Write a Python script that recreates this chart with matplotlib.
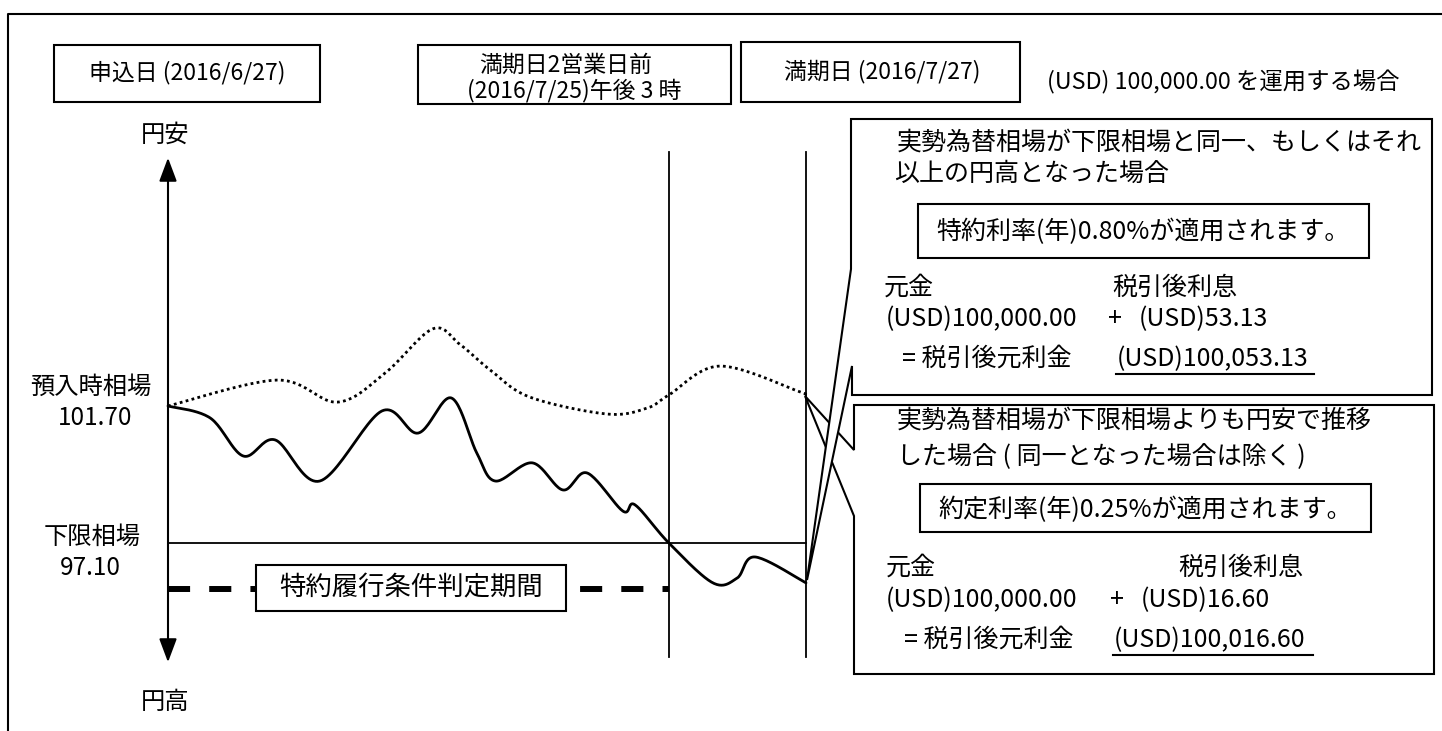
import numpy as np
import matplotlib.pyplot as plt
from matplotlib.patches import Polygon, Rectangle, FancyArrowPatch

plt.rcParams['font.family'] = ['Noto Sans CJK JP', 'DejaVu Sans']

# 為替相場の推移イメージ（横軸：申込日=0 ～ 満期日=100 の位置、縦軸：USD/JPY）
pos_solid = [0, 6.6, 11.8, 16.8, 23.8, 33.5, 39.2, 44.4, 48.4, 51.3, 57.1, 61.9,
             65.7, 71.3, 73.2, 78.5, 85.4, 89.2, 92.0, 100]
rate_solid = [101.70, 101.30, 100.02, 100.56, 99.18, 101.53, 100.79, 101.97, 100.12,
              99.18, 99.79, 98.88, 99.45, 98.17, 98.38, 97.10, 95.76, 95.92, 96.63, 95.76]
pos_dotted = [0, 17.1, 26.5, 33.9, 41.5, 45.8, 50.5, 56.7, 68.8, 75.1, 78.5, 86.5, 99.1, 100]
rate_dotted = [101.70, 102.57, 101.83, 102.78, 104.29, 103.76, 102.91, 102.00, 101.43,
               101.63, 102.07, 103.04, 102.17, 102.07]

entry_rate = 101.70     # 預入時相場
limit_rate = 97.10      # 下限相場
judge_end = 78.5        # 満期日2営業日前
maturity = 100          # 満期日
band_rate = 95.55       # 判定期間の破線の高さ


def smooth(x, y, n=24):
    # Catmull-Rom で描画用に滑らかにする
    p = np.column_stack([x, y]).astype(float)
    p = np.vstack([p[0], p, p[-1]])
    t = np.linspace(0, 1, n, endpoint=False)[:, None]
    out = []
    for i in range(1, len(p) - 2):
        p0, p1, p2, p3 = p[i - 1], p[i], p[i + 1], p[i + 2]
        seg = 0.5 * ((2 * p1) + (-p0 + p2) * t + (2 * p0 - 5 * p1 + 4 * p2 - p3) * t ** 2
                     + (-p0 + 3 * p1 - 3 * p2 + p3) * t ** 3)
        out.append(seg)
    out.append(p[-2][None, :])
    out = np.vstack(out)
    return out[:, 0], out[:, 1]


W, H = 1442, 731
fig = plt.figure(figsize=(W / 100, H / 100), dpi=100)
fig.patch.set_facecolor('white')

# グラフ部分
ax2 = fig.add_axes([168 / W, 1 - 657 / H, (806 - 168) / W, (657 - 152) / H])
ax2.set_xlim(0, 100)
ax2.set_ylim(93.27, 110.23)
ax2.axis('off')

sx, sy = smooth(pos_solid, rate_solid)
ax2.plot(sx, sy, color='black', lw=2.0, clip_on=False, solid_capstyle='round')
dx, dy = smooth(pos_dotted, rate_dotted)
ax2.plot(dx, dy, color='black', lw=2.0, ls=(0, (1, 1.2)), clip_on=False)
ax2.plot([0, maturity], [limit_rate, limit_rate], color='black', lw=1.3, clip_on=False)
ax2.plot([judge_end, judge_end], [93.27, 110.23], color='black', lw=1.3, clip_on=False)
ax2.plot([maturity, maturity], [93.27, 110.23], color='black', lw=1.3, clip_on=False)
ax2.plot([0, judge_end], [band_rate, band_rate], color='black', lw=4.3,
         dashes=(3.7, 3.2), clip_on=False)

# レイアウト用（ピクセル座標）
ax = fig.add_axes([0, 0, 1, 1])
ax.set_xlim(0, W)
ax.set_ylim(H, 0)
ax.axis('off')
ax.patch.set_alpha(0)

# 外枠
ax.plot([8, 8, W], [H, 14, 14], color='black', lw=1.5)

fs_top = 16.5
def box(x0, y0, x1, y1, lw=1.5):
    ax.add_patch(Rectangle((x0, y0), x1 - x0, y1 - y0, fc='white', ec='black', lw=lw, zorder=3))

box(54, 45, 320, 102)
ax.text(187, 73, '申込日 (2016/6/27)', ha='center', va='center', fontsize=fs_top, zorder=4)
box(418, 45, 731, 104)
ax.text(566, 65, '満期日2営業日前', ha='center', va='center', fontsize=fs_top, zorder=4)
ax.text(574, 90, '(2016/7/25)午後 3 時', ha='center', va='center', fontsize=fs_top, zorder=4)
box(741, 42, 1020, 102)
ax.text(882, 72, '満期日 (2016/7/27)', ha='center', va='center', fontsize=fs_top, zorder=4)
ax.text(1047, 82, '(USD) 100,000.00 を運用する場合', ha='left', va='center', fontsize=16.8)

# 縦軸
ax.add_patch(FancyArrowPatch((168, 665), (168, 155),
                             arrowstyle='<|-|>,head_length=0.8,head_width=0.3',
                             mutation_scale=18, lw=1.5, color='black'))
fs_lab = 17.5
ax.text(165, 135, '円安', ha='center', va='center', fontsize=fs_lab)
ax.text(165, 702, '円高', ha='center', va='center', fontsize=fs_lab)
ax.text(91, 387, '預入時相場', ha='center', va='center', fontsize=fs_lab)
ax.text(95, 418, '101.70', ha='center', va='center', fontsize=fs_lab)
ax.text(92, 537, '下限相場', ha='center', va='center', fontsize=fs_lab)
ax.text(90, 568, '97.10', ha='center', va='center', fontsize=fs_lab)

box(256, 565, 566, 611)
ax.text(411, 588, '特約履行条件判定期間', ha='center', va='center', fontsize=19, zorder=4)

# 吹き出し（円安で推移した場合）
ax.add_patch(Polygon([(854, 405), (1434, 405), (1434, 674), (854, 674), (854, 516),
                      (805, 396), (854, 450)], closed=True, fc='white', ec='black',
                     lw=1.5, zorder=3))
# 吹き出し（下限相場以下となった場合）
ax.add_patch(Polygon([(851, 119), (1432, 119), (1432, 395), (852, 395), (852, 366),
                      (807, 580), (851, 269)], closed=True, fc='white', ec='black',
                     lw=1.5, zorder=3))

fs = 18
z = 5
ax.text(897, 143, '実勢為替相場が下限相場と同一、もしくはそれ', ha='left', va='center', fontsize=fs, zorder=z)
ax.text(894, 174, '以上の円高となった場合', ha='left', va='center', fontsize=fs, zorder=z)
ax.add_patch(Rectangle((918, 204), 451, 54, fc='white', ec='black', lw=1.5, zorder=4))
ax.text(1143, 232, '特約利率(年)0.80%が適用されます。', ha='center', va='center', fontsize=fs, zorder=z)
ax.text(884, 288, '元金', ha='left', va='center', fontsize=fs, zorder=z)
ax.text(1112, 288, '税引後利息', ha='left', va='center', fontsize=fs, zorder=z)
ax.text(886, 319, '(USD)100,000.00', ha='left', va='center', fontsize=fs, zorder=z)
ax.text(1108, 319, '+', ha='left', va='center', fontsize=fs, zorder=z)
ax.text(1139, 319, '(USD)53.13', ha='left', va='center', fontsize=fs, zorder=z)
ax.text(902, 359, '= 税引後元利金', ha='left', va='center', fontsize=fs, zorder=z)
ax.text(1117, 359, '(USD)100,053.13', ha='left', va='center', fontsize=fs, zorder=z)
ax.plot([1116, 1314], [374, 374], color='black', lw=1.5, zorder=z)

ax.text(897, 421, '実勢為替相場が下限相場よりも円安で推移', ha='left', va='center', fontsize=fs, zorder=z)
ax.text(897, 457, 'した場合 ( 同一となった場合は除く )', ha='left', va='center', fontsize=fs, zorder=z)
ax.add_patch(Rectangle((920, 484), 451, 48, fc='white', ec='black', lw=1.5, zorder=4))
ax.text(1145, 510, '約定利率(年)0.25%が適用されます。', ha='center', va='center', fontsize=fs, zorder=z)
ax.text(886, 568, '元金', ha='left', va='center', fontsize=fs, zorder=z)
ax.text(1178, 568, '税引後利息', ha='left', va='center', fontsize=fs, zorder=z)
ax.text(886, 600, '(USD)100,000.00', ha='left', va='center', fontsize=fs, zorder=z)
ax.text(1110, 600, '+', ha='left', va='center', fontsize=fs, zorder=z)
ax.text(1141, 600, '(USD)16.60', ha='left', va='center', fontsize=fs, zorder=z)
ax.text(904, 640, '= 税引後元利金', ha='left', va='center', fontsize=fs, zorder=z)
ax.text(1114, 640, '(USD)100,016.60', ha='left', va='center', fontsize=fs, zorder=z)
ax.plot([1113, 1313], [655, 655], color='black', lw=1.5, zorder=z)

fig.savefig('out.png', dpi=100, facecolor='white')
